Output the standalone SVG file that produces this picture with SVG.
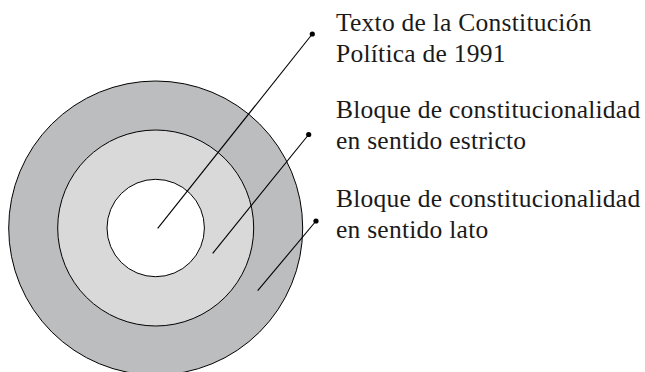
<svg xmlns="http://www.w3.org/2000/svg" width="645" height="372" viewBox="0 0 645 372">
<style>
.ring{stroke:#000;stroke-width:1}
.lead{stroke:#000;stroke-width:1.1;fill:none}
.dot{fill:#000}
.lbl{font-family:"Liberation Serif","Times New Roman",serif;font-size:25.5px;letter-spacing:0.25px;fill:#1a1a1a}
</style>
<rect width="645" height="372" fill="#fff"/>
<g id="outer"><circle class="ring" cx="155.7" cy="228" r="147" fill="#bcbdbf"/></g>
<g id="middle"><circle class="ring" cx="155.7" cy="228" r="98" fill="#d9d9d9"/></g>
<g id="inner"><circle class="ring" cx="155.7" cy="228" r="48.7" fill="#fff"/></g>
<g id="connectors">
<line class="lead" x1="157.7" y1="228.3" x2="312.3" y2="34"/>
<circle class="dot" cx="312.3" cy="34" r="2.6"/>
<line class="lead" x1="212.7" y1="253.3" x2="308.7" y2="134.5"/>
<circle class="dot" cx="308.7" cy="134.5" r="2.6"/>
<line class="lead" x1="257.7" y1="290.7" x2="316" y2="221"/>
<circle class="dot" cx="316" cy="221" r="2.6"/>
</g>
<g id="label1"><text class="lbl" x="336" y="30.5">Texto de la Constitución</text><text class="lbl" x="336" y="61.5">Política de 1991</text></g>
<g id="label2"><text class="lbl" x="336" y="118">Bloque de constitucionalidad</text><text class="lbl" x="336" y="149">en sentido estricto</text></g>
<g id="label3"><text class="lbl" x="336" y="207">Bloque de constitucionalidad</text><text class="lbl" x="336" y="238">en sentido lato</text></g>
</svg>
